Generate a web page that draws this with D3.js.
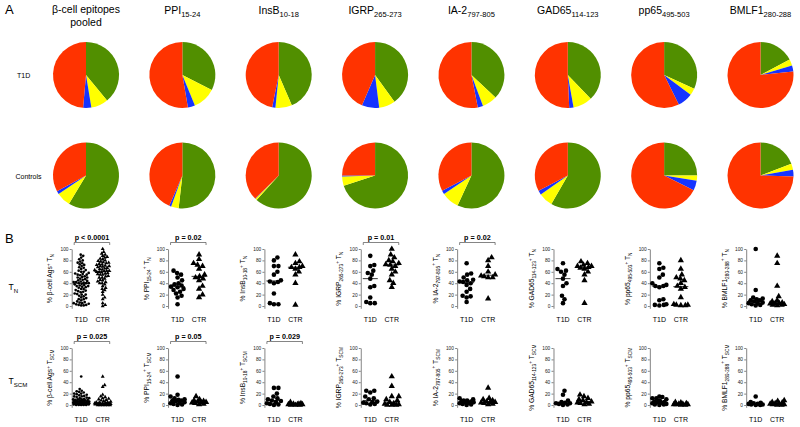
<!DOCTYPE html>
<html><head><meta charset="utf-8">
<script src="https://cdn.jsdelivr.net/npm/d3@7"></script>
<style>body{margin:0;background:#fff}svg{display:block;font-family:"Liberation Sans",Arial,sans-serif}</style>
</head><body><svg id="c" width="800" height="427"></svg>
<script>
// ---------- DATA ----------
const epitopes = ["β-cell epitopes pooled","PPI","InsB","IGRP","IA-2","GAD65","pp65","BMLF1"];
const epitopeSub = ["","15-24","10-18","265-273","797-805","114-123","495-503","280-288"];
const subsets = ["TN","TSCM","TCM","TEM"];
// pie fractions (%) per epitope
const t1dTN   = [39.0, 32.5, 43.5, 40.0, 37.0, 37.8, 31.8, 17.2];
const t1dTSCM = [8.4, 11.3, 8.1, 8.0, 7.3, 9.4, 3.4, 3.1];
const t1dTCM  = [4.0, 3.5, 1.6, 8.5, 2.6, 2.1, 7.5, 3.0];
const t1dTEM  = [48.6, 52.7, 46.8, 43.5, 53.1, 50.7, 57.3, 76.7];
const ctrTN   = [58.6, 51.8, 61.7, 70.0, 56.9, 58.3, 25.0, 19.2];
const ctrTSCM = [7.0, 3.7, 0.8, 4.5, 8.7, 7.0, 2.6, 3.0];
const ctrTCM  = [1.5, 1.0, 0.2, 0.5, 1.8, 2.0, 4.8, 3.3];
const ctrTEM  = [32.9, 43.5, 37.3, 25.0, 32.6, 32.7, 67.6, 74.5];

const groups = ["T1D","CTR"];
const yTicks = [0,20,40,60,80,100];
// % antigen-specific cells that are TN
const tnT1D = [
 [90,88,85,82,80,78,76,75,73,72,70,68,67,65,63,62,60,60,58,57,56,55,55,54,52,51,50,50,48,47,46,45,44,43,42,42,41,40,40,40,39,38,37,36,35,35,34,33,32,30,30,28,27,26,25,24,22,21,20,20,18,17,15,14,12,12,10,8,7,6,5,5,4,3,2,2,1,1],
 [62,58,55,50,45,40,38,36,34,33,30,28,25,22,18,15,3],
 [85,80,70,70,60,55,45,43,42,40,22,5,3,3],
 [88,72,70,62,58,55,48,35,33,15,7,5,5],
 [75,57,55,50,46,45,43,42,40,37,30,25,18,17,15,7],
 [75,65,62,60,55,48,40,35,18,12,5],
 [75,67,65,55,50,40,37,35,35,33,12,10,3,2,2,1],
 [100,28,15,13,12,10,10,8,6,5,5,3,2,1]
];
const tnCTR = [
 [100,95,92,90,88,86,85,83,82,80,79,78,77,76,75,74,73,72,71,70,70,69,68,67,66,65,64,63,62,62,61,60,60,59,58,57,56,55,55,53,52,50,50,48,46,45,43,42,40,40,38,35,32,30,28,25,20,15,12,5,2,0],
 [90,82,75,72,70,65,55,52,50,48,45,35,30,20,15],
 [90,78,75,70,68,68,65,60,55,40,2],
 [100,90,85,80,78,75,73,72,70,65,60,55,45,40,33],
 [85,80,70,60,55,53,52,50,50,13],
 [78,75,72,70,70,68,67,65,60,55,45,5],
 [80,65,55,50,48,45,40,35,33,30,15,3,2,2,1,1],
 [88,75,35,17,10,8,6,5,5,4,3,2,2,1]
];
// % antigen-specific cells that are TSCM
const scmT1D = [
 [50,28,25,24,23,22,20,20,19,18,17,16,15,15,14,13,12,12,11,10,10,10,9,9,8,8,8,7,7,7,6,6,6,5,5,5,5,4,4,4,4,3,3,3,3,2,2,2,2,1,1,1,1,0,0,0,0,0],
 [50,18,15,12,10,9,8,8,7,5,4,3,2,1,0],
 [30,30,20,15,12,10,8,7,5,3,2,1,0],
 [25,25,22,15,12,10,6,5,4,3,2,1],
 [12,10,8,8,7,6,5,5,4,3,2,1,0],
 [25,18,8,5,4,3,3,2,1,0],
 [15,14,12,12,10,8,6,5,5,4,3,2,1,1,0],
 [15,5,4,3,2,2,1,1,0,0]
];
const scmCTR = [
 [50,35,32,18,15,14,12,11,10,9,8,7,6,5,5,4,4,3,3,3,3,2,2,2,2,2,1,1,1,1,1,1,0,0,0,0,0,0],
 [15,10,8,7,6,5,5,4,3,2,1],
 [5,3,2,2,1,1,1,0,0,0],
 [50,33,15,15,10,8,5,3,2,1,0,0,0],
 [30,12,10,8,6,5,5,4,3,2,1],
 [18,15,12,10,8,6,5,4,3,2,1],
 [5,4,3,2,2,1,1,1,0,0],
 [8,7,5,4,3,2,2,1,1,0,0]
];
const pTN  = ["p < 0.0001","p = 0.02","","p = 0.01","p = 0.02","","",""];
const pSCM = ["p = 0.025","p = 0.05","p = 0.029","","","","",""];

// ---------- DRAW ----------
const svg = d3.select("#c");
const colors = d3.scaleOrdinal(subsets, ["#518f00","#ffff00","#1634ff","#ff3300"]);
const colX = d3.scalePoint(d3.range(8), [86, 760.5]);

function txt(g, x, y, size, parts, opts={}) {
  const t = g.append("text").attr("x", x).attr("y", y).attr("font-size", size)
    .attr("text-anchor", opts.anchor || "middle").attr("fill", "#000");
  if (opts.weight) t.attr("font-weight", opts.weight);
  if (opts.rotate) t.attr("transform", `rotate(-90,${x},${y})`);
  let shift = 0;
  parts.forEach(p => {
    const [s, kind] = Array.isArray(p) ? p : [p, "n"];
    const target = kind === "sub" ? size*0.3 : kind === "sup" ? -size*0.35 : 0;
    const fs = kind === "n" ? size : size*0.72;
    t.append("tspan").attr("dy", target - shift).attr("font-size", fs).text(s);
    shift = target;
  });
  return t;
}

// Panel letters
txt(svg, 5, 14, 13, ["A"], {anchor:"start"});
txt(svg, 5, 243, 13, ["B"], {anchor:"start"});

// Titles
epitopes.forEach((e, i) => {
  const x = colX(i);
  if (i === 0) {
    txt(svg, x, 12.5, 10.5, ["β-cell epitopes"]);
    txt(svg, x, 25.5, 10.5, ["pooled"]);
  } else {
    txt(svg, x, 14, 10.5, [e, [epitopeSub[i], "sub"]]);
  }
});

// Pies
const pie = d3.pie().sort(null).value(d => d.v);
const arc = d3.arc().innerRadius(0).outerRadius(33);
txt(svg, 17, 78, 7, ["T1D"], {anchor:"start"});
txt(svg, 15.5, 178.5, 7, ["Controls"], {anchor:"start"});
const pieRows = [
  {cy: 75, vals: [t1dTN, t1dTSCM, t1dTCM, t1dTEM]},
  {cy: 175.5, vals: [ctrTN, ctrTSCM, ctrTCM, ctrTEM]}
];
pieRows.forEach(row => {
  d3.range(8).forEach(i => {
    const data = subsets.map((s, k) => ({s, v: row.vals[k][i]}));
    svg.append("g").attr("transform", `translate(${colX(i)},${row.cy})`)
      .selectAll("path").data(pie(data)).join("path")
      .attr("d", arc).attr("fill", d => colors(d.data.s));
  });
});

// Scatter panels: deterministic beeswarm, horizontal spread capped
function swarm(vals, cx, y, r, maxOff) {
  const placed = [];
  const sorted = vals.slice().sort((a, b) => a - b);
  const minD = 2 * r * 0.9;
  sorted.forEach(v => {
    const py = y(v);
    let best = 0, bestD = -1;
    for (let k = 0; k < 200; k++) {
      const cand = k === 0 ? 0 : (k % 2 ? 1 : -1) * Math.ceil(k / 2) * 0.5;
      if (Math.abs(cand) > maxOff) break;
      const dmin = placed.length ? d3.min(placed, p => Math.hypot(p.x - (cx + cand), p.y - py)) : Infinity;
      if (dmin >= minD) { best = cand; break; }
      if (dmin > bestD) { bestD = dmin; best = cand; }
    }
    placed.push({x: cx + best, y: py, v});
  });
  return placed;
}

txt(svg, 8.5, 290, 8.5, ["T", ["N","sub"]], {anchor:"start"});
txt(svg, 8.5, 384, 8.5, ["T", ["SCM","sub"]], {anchor:"start"});

const rows = [
  {top: 249, bot: 308.3, t1d: tnT1D, ctr: tnCTR, p: pTN, sub: "N", py: 240, by: 242.5, ly: 321.5},
  {top: 348, bot: 407.3, t1d: scmT1D, ctr: scmCTR, p: pSCM, sub: "SCM", py: 339, by: 341.5, ly: 422}
];
rows.forEach(row => {
  const y = d3.scaleLinear([-4, 100], [row.bot, row.top]);
  d3.range(8).forEach(i => {
    const ax = colX(i) - 14.3;
    const g = svg.append("g");
    const xg = d3.scalePoint(groups, [ax + 9.5, ax + 31]);
    const pooled = i === 0;
    const r = pooled ? 1.35 : 2.3;
    const triSize = pooled ? 6.5 : 17;
    const maxOff = pooled ? 8 : 7;
    // axis
    const axis = g.append("g").attr("transform", `translate(${ax},0)`)
      .call(d3.axisLeft(y).tickValues(yTicks).tickSize(2).tickSizeOuter(0).tickPadding(1.2));
    axis.selectAll("text").attr("font-size", 4.8).attr("font-family", "Liberation Sans, Arial, sans-serif").attr("fill", "#222");
    axis.selectAll("path,line").attr("stroke", "#333").attr("stroke-width", 0.6);
    // y label
    const lbl = pooled ? ["% β-cell Ags", ["+","sup"], " T", [row.sub,"sub"]]
                       : ["% " + epitopes[i], [epitopeSub[i],"sub"], ["+","sup"], " T", [row.sub,"sub"]];
    txt(g, ax - 19.5, (row.top + row.bot) / 2, 6.7, lbl, {rotate: true});
    // x labels
    groups.forEach(gr => txt(g, xg(gr), row.ly, 7, [gr]));
    // points
    const t1dPts = swarm(row.t1d[i], xg("T1D"), y, r, maxOff);
    const ctrPts = swarm(row.ctr[i], xg("CTR"), y, r, maxOff);
    g.selectAll("circle").data(t1dPts).join("circle")
      .attr("cx", d => d.x).attr("cy", d => d.y).attr("r", r).attr("fill", "#000");
    g.selectAll("path.tri").data(ctrPts).join("path").attr("class", "tri")
      .attr("transform", d => `translate(${d.x},${d.y})`)
      .attr("d", d3.symbol(d3.symbolTriangle, triSize)).attr("fill", "#000");
    // medians
    const hw = pooled ? 8.5 : 7.5;
    [[row.t1d[i], "T1D"], [row.ctr[i], "CTR"]].forEach(([vals, gr]) => {
      const m = d3.median(vals);
      g.append("line").attr("x1", xg(gr) - hw).attr("x2", xg(gr) + hw)
        .attr("y1", y(m)).attr("y2", y(m)).attr("stroke", "#000").attr("stroke-width", 0.8);
    });
    // p-value bracket
    if (row.p[i]) {
      const x1 = ax + 2.5, x2 = ax + 38;
      txt(g, (x1 + x2) / 2, row.py, 7.2, [row.p[i]], {weight: "bold"});
      g.append("path").attr("d", `M${x1},${row.by + 2.5}V${row.by}H${x2}V${row.by + 2.5}`)
        .attr("fill", "none").attr("stroke", "#333").attr("stroke-width", 0.6);
    }
  });
});
</script></body></html>
